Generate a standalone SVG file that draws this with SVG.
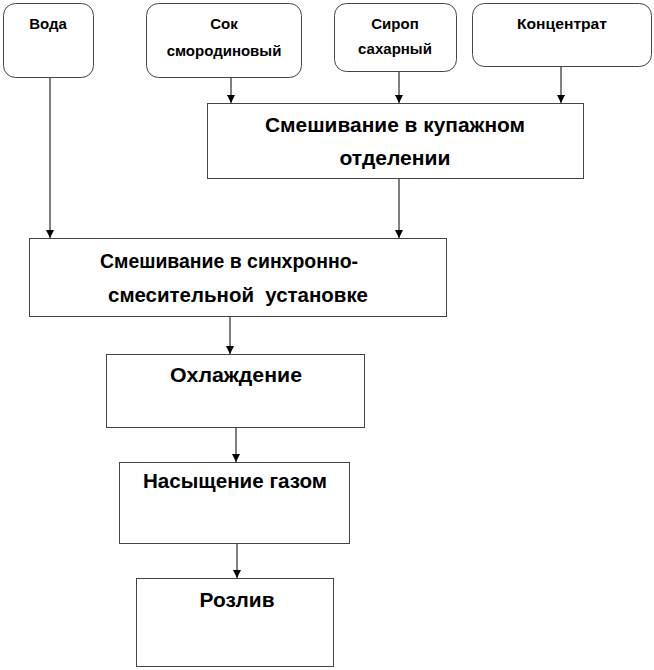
<svg xmlns="http://www.w3.org/2000/svg" width="654" height="670" viewBox="0 0 654 670">
<style>
.box{fill:#fff;stroke:#444;stroke-width:1}
.t{font-family:"Liberation Sans",Arial,sans-serif;font-weight:bold;fill:#000;text-anchor:middle}
.s{font-size:15px}
.m{font-size:20px}
.c{stroke:#000;stroke-width:1;fill:none;marker-end:url(#ah)}
</style>
<defs>
<marker id="ah" viewBox="0 0 8 8" refX="8" refY="4" markerWidth="8" markerHeight="8" markerUnits="userSpaceOnUse" orient="auto">
<path d="M0,0 L8,4 L0,8 z" fill="#000"/>
</marker>
</defs>
<rect width="654" height="670" fill="#fff"/>
<g id="connectors">
<line class="c" x1="50" y1="78" x2="50" y2="238"/>
<line class="c" x1="231" y1="78" x2="231" y2="103"/>
<line class="c" x1="399" y1="72" x2="399" y2="103"/>
<line class="c" x1="561" y1="67" x2="561" y2="103"/>
<line class="c" x1="399" y1="178" x2="399" y2="238"/>
<line class="c" x1="230" y1="316" x2="230" y2="354"/>
<line class="c" x1="236" y1="427" x2="236" y2="462"/>
<line class="c" x1="237" y1="543" x2="237" y2="578"/>
</g>
<g id="voda">
<rect class="box" x="3.5" y="3.5" width="90" height="74" rx="12"/>
<text class="t s" x="48" y="29">Вода</text>
</g>
<g id="sok">
<rect class="box" x="146.5" y="3.5" width="155" height="74" rx="12"/>
<text class="t s" x="224" y="29">Сок</text>
<text class="t s" x="224" y="56">смородиновый</text>
</g>
<g id="sirop">
<rect class="box" x="334.5" y="3.5" width="122" height="68" rx="12"/>
<text class="t s" x="395" y="29">Сироп</text>
<text class="t s" x="395" y="54">сахарный</text>
</g>
<g id="koncentrat">
<rect class="box" x="472.5" y="3.5" width="179" height="63" rx="12"/>
<text class="t s" x="562" y="29" textLength="90" lengthAdjust="spacingAndGlyphs">Концентрат</text>
</g>
<g id="kupazh">
<rect class="box" x="207.5" y="103.5" width="376" height="75"/>
<text class="t m" x="395" y="132" textLength="260" lengthAdjust="spacingAndGlyphs">Смешивание в купажном</text>
<text class="t m" x="395" y="165" textLength="111" lengthAdjust="spacingAndGlyphs">отделении</text>
</g>
<g id="sinhron">
<rect class="box" x="29.5" y="238.5" width="417" height="78"/>
<text class="t m" x="229" y="268" textLength="258" lengthAdjust="spacingAndGlyphs">Смешивание в синхронно-</text>
<text class="t m" x="238" y="302" textLength="260" lengthAdjust="spacingAndGlyphs" xml:space="preserve">смесительной  установке</text>
</g>
<g id="ohlazhdenie">
<rect class="box" x="106.5" y="354.5" width="258" height="73"/>
<text class="t m" x="236" y="382" textLength="132" lengthAdjust="spacingAndGlyphs">Охлаждение</text>
</g>
<g id="nasyshchenie">
<rect class="box" x="119.5" y="462.5" width="230" height="81"/>
<text class="t m" x="235" y="488" textLength="184" lengthAdjust="spacingAndGlyphs">Насыщение газом</text>
</g>
<g id="rozliv">
<rect class="box" x="136.5" y="578.5" width="197" height="88"/>
<text class="t m" x="237" y="607" textLength="75" lengthAdjust="spacingAndGlyphs">Розлив</text>
</g>
</svg>
